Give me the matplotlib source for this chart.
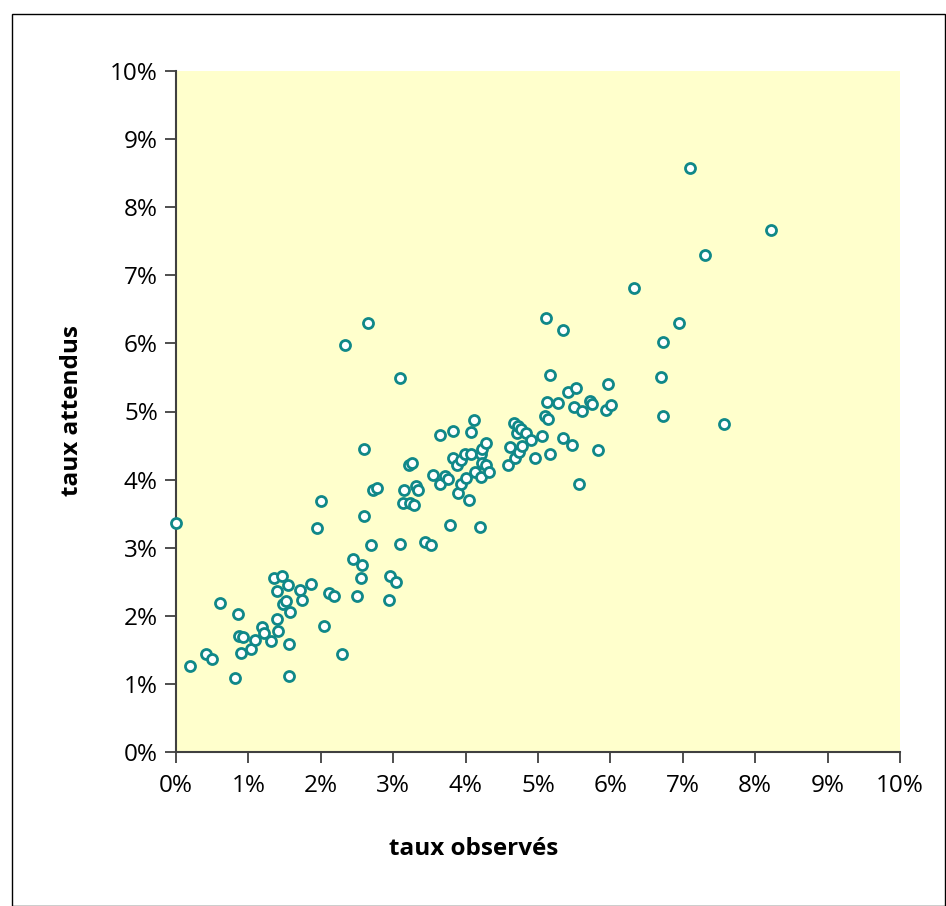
import matplotlib
matplotlib.use("Agg")
import matplotlib.pyplot as plt
from matplotlib.patches import Rectangle
from matplotlib.ticker import FuncFormatter, MultipleLocator

# observed rates (%) and expected rates (%)
taux_observes = [
    0.00, 0.20, 0.42, 0.50, 0.61, 0.82, 0.86, 0.87, 0.93, 0.90, 1.03, 1.09, 1.19, 1.21,
    1.31, 1.35, 1.40, 1.40, 1.41, 1.46, 1.48, 1.52, 1.55, 1.56, 1.56, 1.58, 1.71, 1.74,
    1.87, 1.95, 2.00, 2.04, 2.12, 2.18, 2.29, 2.34, 2.44, 2.50, 2.55, 2.57, 2.60, 2.60,
    2.65, 2.69, 2.72, 2.78, 2.94, 2.96, 3.04, 3.09, 3.10, 3.13, 3.15, 3.22, 3.26, 3.23,
    3.29, 3.31, 3.34, 3.44, 3.52, 3.55, 3.64, 3.65, 3.71, 3.79, 3.76, 3.82, 3.83, 3.88,
    3.89, 3.94, 3.94, 3.99, 4.01, 4.05, 4.07, 4.08, 4.11, 4.13, 4.20, 4.21, 4.23, 4.23,
    4.21, 4.28, 4.28, 4.33, 4.58, 4.62, 4.67, 4.68, 4.71, 4.72, 4.74, 4.77, 4.78, 4.83,
    4.91, 4.96, 5.06, 5.10, 5.11, 5.14, 5.12, 5.16, 5.17, 5.28, 5.35, 5.34, 5.42, 5.47,
    5.50, 5.52, 5.57, 5.61, 5.72, 5.74, 5.83, 5.94, 5.97, 6.01, 6.33, 6.70, 6.72, 6.72,
    6.95, 7.10, 7.31, 7.57, 8.22,
]
taux_attendus = [
    3.37, 1.27, 1.44, 1.36, 2.19, 1.08, 2.02, 1.70, 1.69, 1.46, 1.51, 1.65, 1.84, 1.75,
    1.63, 2.55, 2.36, 1.95, 1.78, 2.58, 2.17, 2.21, 2.45, 1.59, 1.12, 2.06, 2.38, 2.23,
    2.47, 3.29, 3.69, 1.85, 2.34, 2.29, 1.44, 5.97, 2.83, 2.29, 2.55, 2.74, 4.45, 3.46,
    6.30, 3.04, 3.85, 3.87, 2.23, 2.59, 2.49, 5.49, 3.06, 3.66, 3.85, 4.21, 4.25, 3.65,
    3.63, 3.91, 3.85, 3.08, 3.04, 4.07, 3.93, 4.66, 4.06, 3.34, 4.01, 4.32, 4.72, 4.21,
    3.80, 3.94, 4.29, 4.37, 4.03, 3.70, 4.70, 4.37, 4.88, 4.11, 3.30, 4.38, 4.45, 4.25,
    4.04, 4.54, 4.21, 4.11, 4.21, 4.48, 4.83, 4.32, 4.69, 4.79, 4.40, 4.74, 4.50, 4.69,
    4.58, 4.32, 4.64, 4.93, 6.37, 4.89, 5.14, 4.37, 5.54, 5.13, 6.20, 4.61, 5.28, 4.51,
    5.06, 5.34, 3.93, 5.01, 5.15, 5.11, 4.43, 5.02, 5.40, 5.10, 6.81, 5.51, 6.02, 4.94,
    6.30, 8.57, 7.30, 4.81, 7.66,
]

W, H = 946, 906
fig = plt.figure(figsize=(W / 100, H / 100), dpi=100)
fig.patch.set_facecolor("white")

# outer frame
fig.patches.append(Rectangle((12 / W, 0), (W - 13) / W, (H - 14) / H,
                             transform=fig.transFigure, fill=False,
                             edgecolor="black", linewidth=1.0))

ax = fig.add_axes([176 / W, (H - 752) / H, 724 / W, 681 / H])
ax.set_facecolor("#FFFFCC")
ax.scatter(taux_observes, taux_attendus, s=52, facecolors="white",
           edgecolors="#108888", linewidths=2.0, zorder=3, clip_on=False)

ax.set_xlim(0, 10)
ax.set_ylim(0, 10)
ax.xaxis.set_major_locator(MultipleLocator(1))
ax.yaxis.set_major_locator(MultipleLocator(1))
fmt = FuncFormatter(lambda v, p: f"{int(round(v))}%")
ax.xaxis.set_major_formatter(fmt)
ax.yaxis.set_major_formatter(fmt)

for s in ["top", "right"]:
    ax.spines[s].set_visible(False)
for s in ["left", "bottom"]:
    ax.spines[s].set_color("#404040")
    ax.spines[s].set_linewidth(1.5)

ax.tick_params(axis="both", direction="out", length=8, width=1.3,
               color="#404040", labelsize=17.5, labelcolor="#000000")
ax.tick_params(axis="x", pad=8)
ax.tick_params(axis="y", pad=5)
for lab in ax.get_xticklabels() + ax.get_yticklabels():
    lab.set_fontfamily("Open Sans")

fig.text(474 / W, 1 - 849 / H, "taux observés", ha="center", va="center",
         fontsize=17.5, fontweight="bold", family="Open Sans")
fig.text(72 / W, 1 - 411 / H, "taux attendus", ha="center", va="center",
         rotation=90, fontsize=17.5, fontweight="bold", family="Open Sans")

fig.savefig("out.png", dpi=100, facecolor="white")
